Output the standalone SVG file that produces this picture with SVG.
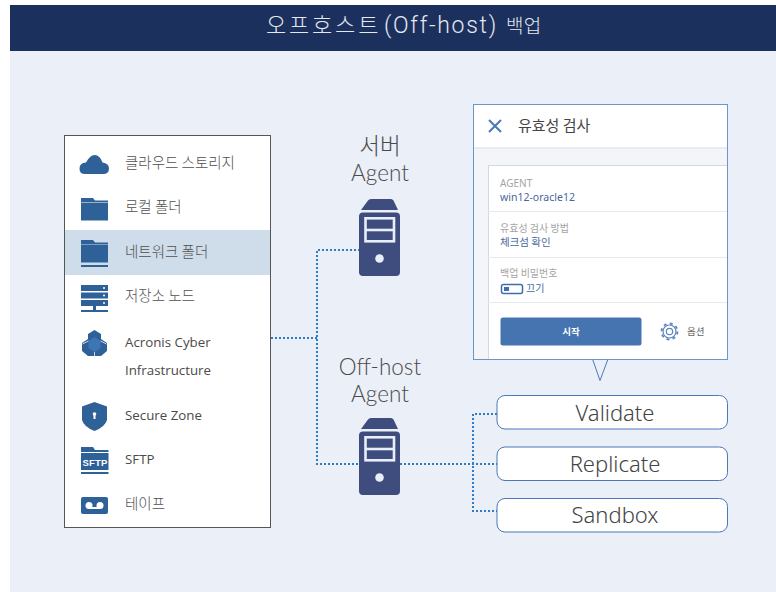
<svg xmlns="http://www.w3.org/2000/svg" width="776" height="592" viewBox="0 0 776 592">
<style>
text{font-family:"Noto Sans","Noto Sans CJK KR",sans-serif}
.li{font-size:13.300px;fill:#4a4a4a;font-family:"Open Sans","Noto Sans CJK KR",sans-serif}
.lk{font-size:14.500px;fill:#505050;font-family:"Noto Sans CJK KR",sans-serif;font-weight:300}
.ic{fill:#2f6199}
.ag{font-size:22.500px;fill:#4a4a4a;text-anchor:middle;font-family:"Lato","Noto Sans CJK KR",sans-serif;font-weight:300}
.dot{fill:none;stroke:#2f7cc4;stroke-width:2;stroke-dasharray:2 2}
.srv{fill:#3e4d7e}
.srvl{fill:none;stroke:#e9eef8;stroke-width:2.600}
.box{fill:#fff;stroke:#4a78b8;stroke-width:1}
.bt{font-size:22px;fill:#444;text-anchor:middle;font-weight:300}
.g{font-size:10px;fill:#a5a5a5}
.v{font-size:10.500px;fill:#4a689c}
.sep{stroke:#e6e9ee;stroke-width:1}
.t{font-family:"Noto Sans CJK KR",sans-serif;font-weight:300}
</style>
<defs>
<g id="folder"><path class="ic" d="M0 0h12l2 2.500h13v1.500H0z"/><path class="ic" d="M0 4.500h27v18H0z"/></g>
<g id="server"><path class="srv" d="M12 0H32Q33.500 0 34.500 1.500L39 11H2L9 1.500Q10 0 12 0Z"/><rect class="srv" x="0" y="13.500" width="41" height="63.500" rx="4"/><rect class="srvl" x="6.500" y="19.300" width="28.500" height="23"/><path class="srvl" d="M6.500 31H35"/><circle cx="20.500" cy="59.500" r="4.300" fill="#e9eef8"/></g>
</defs>
<rect width="776" height="592" fill="#fff"/>
<rect x="10" y="51" width="766" height="541" fill="#eaeff8"/>
<rect x="10" y="5" width="766" height="46" fill="#1c305e"/>
<text y="33" fill="#e4e8f0"><tspan class="t" x="266" font-size="22" letter-spacing="2.800">오프호스트</tspan><tspan x="384" font-size="23" letter-spacing="1.700" style="font-family:Roboto,sans-serif;font-weight:300">(Off-host) </tspan><tspan class="t" x="506" font-size="19" letter-spacing=".3">백업</tspan></text>

<g id="connectors">
<path class="dot" d="M271 338H317"/>
<path class="dot" d="M360 250H317V464H360"/>
<path class="dot" d="M400 464H497"/>
<path class="dot" d="M497 414H473V511H497"/>
</g>

<g id="storage-list">
<rect x="64.500" y="135.500" width="206" height="392" fill="#fff" stroke="#555" stroke-width="1"/>
<rect x="65" y="230" width="205" height="45" fill="#cfdcea"/>
<path class="ic" d="M85 174Q79.500 174 79.500 168.500Q79.500 163 86 162.500Q90 155 94.500 155Q100 155 102.500 162.500Q109 163.500 109 168.500Q109 174 103 174Z"/>
<text class="lk" x="125" y="168">클라우드 스토리지</text>
<use href="#folder" x="81" y="198"/>
<text class="lk" x="125" y="212">로컬 폴더</text>
<use href="#folder" x="81" y="240"/>
<rect class="ic" x="81" y="265" width="27" height="2"/>
<text class="lk" x="125" y="257">네트워크 폴더</text>
<path class="ic" d="M81 285h27v6H81zM81 292.500h27v6H81zM81 300h27v6H81zM81 310h27v2H81zM93 306h3v4h-3z"/>
<circle cx="104" cy="288" r="1" fill="#fff"/><circle cx="104" cy="295.500" r="1" fill="#fff"/><circle cx="104" cy="303" r="1" fill="#fff"/>
<text class="lk" x="125" y="301">저장소 노드</text>
<path class="ic" d="M94.500 330L101 334V339L107 343V351L101 356H88L82 351V343L88 339V334Z"/>
<path d="M94.500 337L100.500 341V348L94.500 352L88.500 348V341Z" fill="#3d76b4"/>
<path d="M88.500 341L82.500 344M100.500 341L106.500 344M94.500 352V356" stroke="#e8eef6" stroke-width=".8" fill="none"/>
<text class="li" x="125" y="347">Acronis Cyber</text>
<text class="li" x="125" y="375">Infrastructure</text>
<path class="ic" d="M94.500 402L107 406.500V420Q105 427 94.500 431Q84 427 82 420V406.500Z"/>
<circle cx="94.500" cy="414" r="1.800" fill="#fff"/><rect x="93.500" y="414" width="2" height="5" fill="#fff"/>
<text class="li" x="125" y="420">Secure Zone</text>
<path class="ic" d="M81 447h12l2 3h13.500v2H81z"/>
<rect class="ic" x="81" y="453" width="27.500" height="17"/>
<rect class="ic" x="81" y="472" width="27.500" height="2"/>
<text x="95" y="466" font-size="9.500" font-weight="700" fill="#fff" text-anchor="middle" style="font-family:'Liberation Sans Narrow','Liberation Sans',sans-serif" letter-spacing=".2">SFTP</text>
<text class="li" x="125" y="464">SFTP</text>
<rect class="ic" x="81" y="497" width="27" height="17" rx="2"/>
<circle cx="89" cy="505.500" r="3.500" fill="#fff"/><circle cx="100" cy="505.500" r="3.500" fill="#fff"/><rect x="89" y="507" width="11" height="2" fill="#fff"/>
<text class="lk" x="125" y="509">테이프</text>
</g>

<g id="agent-server">
<text class="ag" x="380" y="154">서버</text>
<text class="ag" x="380" y="181">Agent</text>
<use href="#server" x="359" y="199"/>
</g>
<g id="agent-offhost">
<text class="ag" x="380" y="375">Off-host</text>
<text class="ag" x="380" y="402">Agent</text>
<use href="#server" x="359" y="418"/>
</g>

<g id="validation-panel">
<path d="M592.500 359L600 380.500L608 359" fill="#eaeff8" stroke="#4a78b8" stroke-width="1"/>
<rect x="473.500" y="104.500" width="254" height="255" fill="#fff"/>
<rect x="474" y="148" width="253" height="17" fill="#f3f5f8"/>
<rect x="474" y="148" width="14" height="211" fill="#f3f5f8"/>
<path d="M474 148H727" stroke="#d5dfee"/>
<path d="M488 165.500H727M488.500 165V359" stroke="#cfd9e8" fill="none"/>
<path class="sep" d="M488 211.500H727M488 257.500H727M488 302.500H727"/>
<rect x="473.500" y="104.500" width="254" height="255" fill="none" stroke="#6d95cc" stroke-width="1"/>
<path d="M489 120L501 132M501 120L489 132" stroke="#4a78b8" stroke-width="2" fill="none"/>
<text x="518" y="131" font-size="15" fill="#444" style="font-family:'Noto Sans CJK KR',sans-serif">유효성 검사</text>
<text class="g" x="500" y="187">AGENT</text>
<text class="v" x="500" y="201">win12-oracle12</text>
<text class="g" x="500" y="232" style="font-family:'Noto Sans CJK KR',sans-serif">유효성 검사 방법</text>
<text class="v" x="500" y="246" style="font-family:'Noto Sans CJK KR',sans-serif">체크섬 확인</text>
<text class="g" x="500" y="277" style="font-family:'Noto Sans CJK KR',sans-serif">백업 비밀번호</text>
<rect x="501.500" y="284.500" width="21" height="9" rx="2" fill="#fff" stroke="#3f6eae" stroke-width="1.500"/>
<rect x="504" y="287" width="5" height="4" fill="#3f6eae"/>
<text class="v" x="526" y="292" style="font-family:'Noto Sans CJK KR',sans-serif;font-size:10px">끄기</text>
<rect x="500.500" y="317.500" width="141" height="28" rx="2.500" fill="#4674b0"/>
<text x="571" y="335" font-size="9.500" font-weight="700" fill="#fff" text-anchor="middle" style="font-family:'Noto Sans CJK KR',sans-serif">시작</text>
<circle cx="669.500" cy="331.500" r="3.200" fill="none" stroke="#5a84bb" stroke-width="1.200"/>
<circle cx="669.500" cy="331.500" r="6.500" fill="none" stroke="#5a84bb" stroke-width="1.200"/>
<circle cx="669.500" cy="331.500" r="8" fill="none" stroke="#5a84bb" stroke-width="1.800" stroke-dasharray="3 3.280"/>
<text x="687" y="335" font-size="9.500" fill="#666" style="font-family:'Noto Sans CJK KR',sans-serif">옵션</text>
</g>

<g id="validate"><rect class="box" x="497" y="395.500" width="230.500" height="33.500" rx="8"/><text class="bt" x="615" y="421">Validate</text></g>
<g id="replicate"><rect class="box" x="497" y="447" width="230.500" height="33.500" rx="8"/><text class="bt" x="615" y="472">Replicate</text></g>
<g id="sandbox"><rect class="box" x="497" y="498.500" width="230.500" height="33.500" rx="8"/><text class="bt" x="615" y="523">Sandbox</text></g>
</svg>
